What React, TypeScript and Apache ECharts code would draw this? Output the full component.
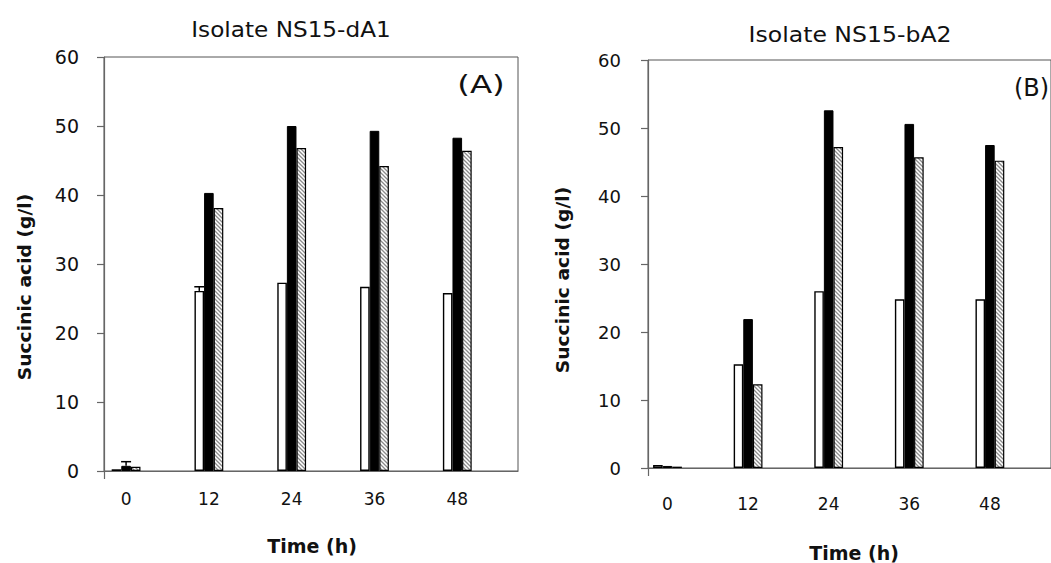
import React, { useEffect, useRef } from "react";
import * as echarts from "echarts";

const hours = [0, 12, 24, 36, 48];
const whiteA = [0.25, 26.1, 27.3, 26.7, 25.8];
const blackA = [0.75, 40.3, 50.0, 49.3, 48.3];
const hatchA = [0.6, 38.1, 46.8, 44.2, 46.4];
const whiteErrA = [0, 0.6, 0, 0, 0];
const blackErrA = [0.6, 0, 0, 0, 0];
const whiteB = [0.45, 15.25, 26.0, 24.8, 24.8];
const blackB = [0.3, 21.9, 52.6, 50.6, 47.5];
const hatchB = [0.2, 12.3, 47.2, 45.7, 45.2];
const titleA = "Isolate NS15-dA1";
const titleB = "Isolate NS15-bA2";
const yName = "Succinic acid (g/l)";
const xName = "Time (h)";

const FONT = "DejaVu Sans";
const BW = 9.6;

function makeHatch() {
  const c = document.createElement("canvas");
  c.width = 4;
  c.height = 4;
  const g = c.getContext("2d")!;
  g.fillStyle = "#fff";
  g.fillRect(0, 0, 4, 4);
  g.strokeStyle = "#8a8a8a";
  g.lineWidth = 1.3;
  g.beginPath();
  g.moveTo(-1, -1);
  g.lineTo(5, 5);
  g.moveTo(-1, 3);
  g.lineTo(1, 5);
  g.moveTo(3, -1);
  g.lineTo(5, 1);
  g.stroke();
  return c;
}

function barSeries(vals: number[], idx: number, style: any, name: string) {
  return {
    type: "bar",
    name,
    xAxisIndex: idx,
    yAxisIndex: idx,
    barWidth: BW,
    barGap: "0%",
    itemStyle: style,
    data: hours.map((h, i) => [h, vals[i]]),
  };
}

function errSeries(vals: number[], errs: number[], idx: number, slot: number) {
  return {
    type: "custom",
    xAxisIndex: idx,
    yAxisIndex: idx,
    z: 5,
    data: hours.map((h, i) => [h, vals[i], errs[i]]).filter((d) => d[2] > 0),
    renderItem: (params: any, api: any) => {
      const x = api.value(0);
      const v = api.value(1);
      const e = api.value(2);
      const pTop = api.coord([x, v + e]);
      const pBase = api.coord([x, v]);
      const cx = pTop[0] + slot * BW;
      return {
        type: "group",
        children: [
          { type: "line", shape: { x1: cx, y1: pBase[1], x2: cx, y2: pTop[1] }, style: { stroke: "#000", lineWidth: 1.5 } },
          { type: "line", shape: { x1: cx - 5, y1: pTop[1], x2: cx + 5, y2: pTop[1] }, style: { stroke: "#000", lineWidth: 1.5 } },
        ],
      };
    },
  };
}

function xAxis(idx: number, min: number, labelSize: number, margin: number) {
  return {
    type: "value",
    gridIndex: idx,
    min,
    max: min + 60,
    axisLine: { show: true, onZero: false, lineStyle: { color: "#666", width: 1.2 } },
    axisTick: { show: true, customValues: [min], length: 8, lineStyle: { color: "#666", width: 1.2 } },
    axisLabel: { customValues: hours, color: "#111", fontFamily: FONT, fontSize: labelSize, margin },
    splitLine: { show: false },
  };
}

function yAxis(idx: number, labelSize: number, margin: number) {
  return {
    type: "value",
    gridIndex: idx,
    min: 0,
    max: 60,
    interval: 10,
    axisLine: { show: true, onZero: false, lineStyle: { color: "#666", width: 1.2 } },
    axisTick: { show: true, inside: false, length: 7, lineStyle: { color: "#666", width: 1.2 } },
    axisLabel: { color: "#111", fontFamily: FONT, fontSize: labelSize, margin },
    splitLine: { show: false },
  };
}

function txt(text: string, x: number, y: number, size: number, opts: any = {}) {
  return {
    type: "text",
    x,
    y,
    rotation: opts.rotation || 0,
    scaleX: opts.scaleX || 1,
    style: {
      text,
      fill: "#111",
      font: `${opts.bold ? "bold " : ""}${size}px "${FONT}"`,
      textAlign: opts.align || "center",
      textVerticalAlign: "middle",
    },
  };
}

export default function App() {
  const ref = useRef<HTMLDivElement>(null);
  useEffect(() => {
    document.body.style.margin = "0";
    const whiteStyle = { color: "#fff", borderColor: "#000", borderWidth: 1.4 };
    const blackStyle = { color: "#000", borderColor: "#000", borderWidth: 1 };
    const hatchStyle = {
      color: { image: makeHatch(), repeat: "repeat" },
      borderColor: "#000",
      borderWidth: 1.2,
    };
    const chart = echarts.init(ref.current!, null, { renderer: "svg" });
    chart.setOption({
      animation: false,
      backgroundColor: "#fff",
      grid: [
        { left: 104, top: 57, width: 414, height: 414, show: true, borderColor: "#555", borderWidth: 1 },
        { left: 648, top: 60, width: 412.5, height: 408, show: true, borderColor: "#555", borderWidth: 1 },
      ],
      xAxis: [xAxis(0, -3.2, 17, 19), xAxis(1, -2.9, 17, 27)],
      yAxis: [yAxis(0, 19, 25), yAxis(1, 18, 27)],
      series: [
        barSeries(whiteA, 0, whiteStyle, "white"),
        barSeries(blackA, 0, blackStyle, "black"),
        barSeries(hatchA, 0, hatchStyle, "hatched"),
        errSeries(whiteA, whiteErrA, 0, -1),
        errSeries(blackA, blackErrA, 0, 0),
        barSeries(whiteB, 1, whiteStyle, "white"),
        barSeries(blackB, 1, blackStyle, "black"),
        barSeries(hatchB, 1, hatchStyle, "hatched"),
      ],
      graphic: [
        txt(titleA, 291, 30, 20.5, { scaleX: 1.13 }),
        txt(titleB, 850, 35, 20.5, { scaleX: 1.15 }),
        txt("(A)", 481, 84, 25, { scaleX: 1.3 }),
        txt("(B)", 1014, 88, 24, { scaleX: 1.0, align: "left" }),
        txt(yName, 25, 287, 17.5, { bold: true, rotation: Math.PI / 2, scaleX: 1.07 }),
        txt(yName, 563, 280, 17.5, { bold: true, rotation: Math.PI / 2, scaleX: 1.07 }),
        txt(xName, 312, 546, 19, { bold: true }),
        txt(xName, 854, 553, 19, { bold: true }),
      ],
    });
    return () => chart.dispose();
  }, []);
  return <div ref={ref} style={{ width: 1051, height: 563 }} />;
}
